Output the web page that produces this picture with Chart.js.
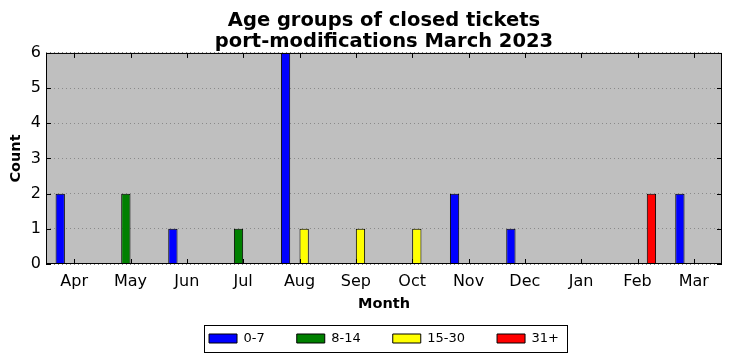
<!DOCTYPE html>
<html>
<head>
<meta charset="utf-8">
<script src="https://cdn.jsdelivr.net/npm/chart.js@4"></script>
<style>
  html, body { margin: 0; padding: 0; background: #fff; }
</style>
</head>
<body>
<canvas id="myChart" width="732" height="361"></canvas>
<script>
const months = ["Apr", "May", "Jun", "Jul", "Aug", "Sep", "Oct", "Nov", "Dec", "Jan", "Feb", "Mar"];
const age0to7 = [2, 0, 1, 0, 6, 0, 0, 2, 1, 0, 0, 2];
const age8to14 = [0, 2, 0, 1, 0, 0, 0, 0, 0, 0, 0, 0];
const age15to30 = [0, 0, 0, 0, 1, 1, 1, 0, 0, 0, 0, 0];
const age31plus = [0, 0, 0, 0, 0, 0, 0, 0, 0, 0, 2, 0];
const seriesNames = ["0-7", "8-14", "15-30", "31+"];
const seriesColors = ["#0000ff", "#008000", "#ffff00", "#ff0000"];
const countTicks = [0, 1, 2, 3, 4, 5, 6];

Chart.defaults.font.family = "'DejaVu Sans', sans-serif";
Chart.defaults.color = "#000";

// silver plot background, black frame, inward ticks (matplotlib classic look)
const mplFrame = {
  id: "mplFrame",
  beforeDraw(chart) {
    const { ctx, chartArea: a } = chart;
    ctx.save();
    ctx.fillStyle = "#bfbfbf";
    ctx.fillRect(a.left, a.top, a.right - a.left, a.bottom - a.top);
    ctx.restore();
  },
  afterDraw(chart) {
    const { ctx, chartArea: a, scales } = chart;
    ctx.save();
    ctx.strokeStyle = "#000";
    ctx.lineWidth = 1;
    ctx.strokeRect(a.left + 0.5, a.top + 0.5, a.right - a.left - 1, a.bottom - a.top - 1);
    ctx.beginPath();
    months.forEach((m, i) => {
      const px = Math.round(scales.x.getPixelForValue(i)) + 0.5;
      ctx.moveTo(px, a.bottom); ctx.lineTo(px, a.bottom - 5);
      ctx.moveTo(px, a.top); ctx.lineTo(px, a.top + 5);
    });
    countTicks.forEach((v) => {
      const py = Math.round(scales.y.getPixelForValue(v)) + 0.5;
      ctx.moveTo(a.left, py); ctx.lineTo(a.left + 5, py);
      ctx.moveTo(a.right, py); ctx.lineTo(a.right - 5, py);
    });
    ctx.stroke();

    // box round the legend
    const boxes = chart.legend.legendHitBoxes;
    if (boxes && boxes.length) {
      const first = boxes[0], last = boxes[boxes.length - 1];
      const l = Math.round(first.left - 5) + 0.5;
      const r = Math.round(last.left + last.width + 8) + 0.5;
      const t = Math.round(first.top - 7) + 0.5;
      const b = Math.round(first.top + first.height + 7) + 0.5;
      ctx.strokeRect(l, t, r - l, b - t);
    }
    ctx.restore();
  }
};

const ctx = document.getElementById("myChart");

new Chart(ctx, {
  type: "bar",
  data: {
    labels: months,
    datasets: [age0to7, age8to14, age15to30, age31plus].map((d, i) => ({
      label: seriesNames[i],
      data: d,
      backgroundColor: seriesColors[i],
      borderColor: "#000",
      borderWidth: 1,
      categoryPercentage: 0.66,
      barPercentage: 1.0,
    })),
  },
  options: {
    responsive: false,
    animation: false,
    devicePixelRatio: 1,
    layout: { padding: { left: 0, right: 10, top: 0, bottom: 6 } },
    plugins: {
      title: {
        display: true,
        fullSize: false,
        text: ["Age groups of closed tickets", "port-modifications March 2023"],
        font: { size: 19.5, weight: "bold", lineHeight: 1.05 },
        padding: { top: 11, bottom: 1 },
        color: "#000",
      },
      legend: {
        position: "bottom",
        fullSize: false,
        labels: {
          boxWidth: 28,
          boxHeight: 9,
          padding: 32,
          font: { size: 13 },
          color: "#000",
        },
      },
      tooltip: { enabled: false },
    },
    scales: {
      x: {
        offset: true,
        grid: { display: false, drawTicks: false },
        border: { display: false },
        ticks: { font: { size: 16 }, padding: 8, maxRotation: 0, autoSkip: false },
        title: {
          display: true,
          text: "Month",
          font: { size: 14.5, weight: "bold" },
          padding: { top: 0, bottom: -13 },
        },
        afterFit: (s) => { s.height = 36; },
      },
      y: {
        min: 0,
        max: 6,
        afterBuildTicks: (s) => { s.ticks = countTicks.map((v) => ({ value: v })); },
        ticks: { font: { size: 16 }, padding: 5 },
        grid: { color: "#8a8a8a", lineWidth: 1, drawTicks: false },
        border: { display: false, dash: [1, 3] },
        title: {
          display: true,
          text: "Count",
          font: { size: 14.5, weight: "bold" },
          padding: { top: 8 },
        },
        afterFit: (s) => { s.width = 46; },
      },
    },
  },
  plugins: [mplFrame],
});
</script>
</body>
</html>
